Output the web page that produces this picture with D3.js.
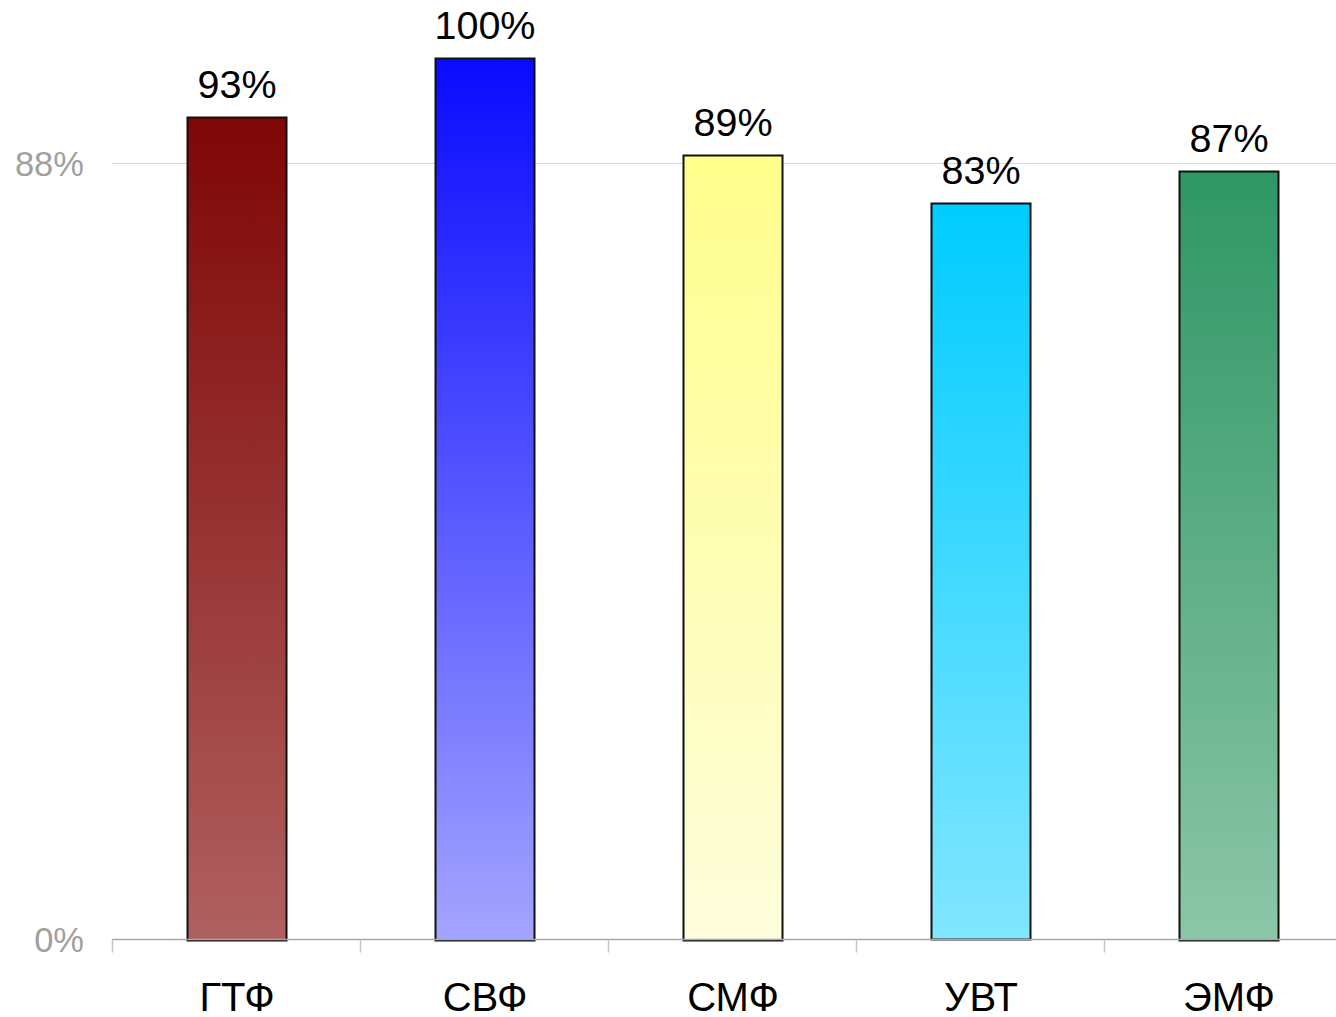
<!DOCTYPE html>
<html>
<head>
<meta charset="utf-8">
<script src="https://cdn.jsdelivr.net/npm/d3@7"></script>
<style>
body{margin:0;background:#fff;}
text{font-family:"Liberation Sans",Arial,sans-serif;}
</style>
</head>
<body>
<div id="canvas"></div>
<script>
// data
var categories = ['ГТФ','СВФ','СМФ','УВТ','ЭМФ'];
var values = [93.3, 100, 89, 83.5, 87.2];
var valueLabels = ['93%','100%','89%','83%','87%'];
var yTicks = [0, 88];
var topColors = ['#7f0606','#0a0aff','#ffff8c','#00ccff','#2f9665'];
var bottomColors = ['#b06060','#a4a4ff','#fdfddc','#82e6ff','#8cc6a8'];

var W = 1336, H = 1017;
var svg = d3.select('#canvas').append('svg')
    .attr('width',W).attr('height',H);

var scaleX = d3.scaleBand()
    .domain(categories)
    .range([112, 1354])
    .paddingInner(0.597)
    .paddingOuter(0.3025);
var scaleY = d3.scaleLinear()
    .domain([0,88])
    .range([939.5,163.5]);

// gradients
var defs = svg.append('defs');
categories.forEach(function(c,i){
    var g = defs.append('linearGradient')
        .attr('id','grad'+i)
        .attr('x1',0).attr('y1',0).attr('x2',0).attr('y2',1);
    g.append('stop').attr('offset','0%').attr('stop-color',topColors[i]);
    g.append('stop').attr('offset','100%').attr('stop-color',bottomColors[i]);
});

// gridline
svg.append('line')
    .attr('x1',112).attr('x2',W)
    .attr('y1',scaleY(88)).attr('y2',scaleY(88))
    .attr('stroke','#d9d9d9').attr('stroke-width',1);

// y tick labels
svg.selectAll('.ytick').data(yTicks).enter().append('text')
    .attr('class','ytick')
    .attr('x',84)
    .attr('y',function(d){return scaleY(d)+12;})
    .attr('text-anchor','end')
    .attr('font-size',34.5)
    .attr('fill','#a0a0a0')
    .text(function(d){return d+'%';});

// bars
svg.selectAll('.bar').data(values).enter().append('rect')
    .attr('class','bar')
    .attr('x',function(d,i){return Math.round(scaleX(categories[i]))+0.5;})
    .attr('y',function(d){return Math.round(scaleY(d))+0.5;})
    .attr('width',Math.round(scaleX.bandwidth())-1)
    .attr('height',function(d){return Math.round(scaleY(0)-scaleY(d));})
    .attr('fill',function(d,i){return 'url(#grad'+i+')';})
    .attr('stroke','#111').attr('stroke-width',2);

// value labels
svg.selectAll('.vlabel').data(values).enter().append('text')
    .attr('class','vlabel')
    .attr('x',function(d,i){return scaleX(categories[i])+scaleX.bandwidth()/2;})
    .attr('y',function(d){return scaleY(d)-19;})
    .attr('text-anchor','middle')
    .attr('font-size',39.5)
    .attr('fill','#000')
    .text(function(d,i){return valueLabels[i];});

// x axis
var gx = svg.append('g')
    .attr('transform','translate(0,939.5)');
gx.append('line')
    .attr('x1',112).attr('x2',W)
    .attr('stroke','#a6a6a6').attr('stroke-width',1.5);
var bounds = d3.range(categories.length+1).map(function(i){
    return 112 + i*scaleX.step();
});
gx.selectAll('.xtick').data(bounds).enter().append('line')
    .attr('x1',function(d){return Math.round(d)+0.5;})
    .attr('x2',function(d){return Math.round(d)+0.5;})
    .attr('y1',0).attr('y2',13)
    .attr('stroke','#c8c8c8').attr('stroke-width',1.5);
gx.selectAll('.xlabel').data(categories).enter().append('text')
    .attr('x',function(d){return scaleX(d)+scaleX.bandwidth()/2;})
    .attr('y',71)
    .attr('text-anchor','middle')
    .attr('font-size',40)
    .attr('fill','#000')
    .text(function(d){return d;});
</script>
</body>
</html>
